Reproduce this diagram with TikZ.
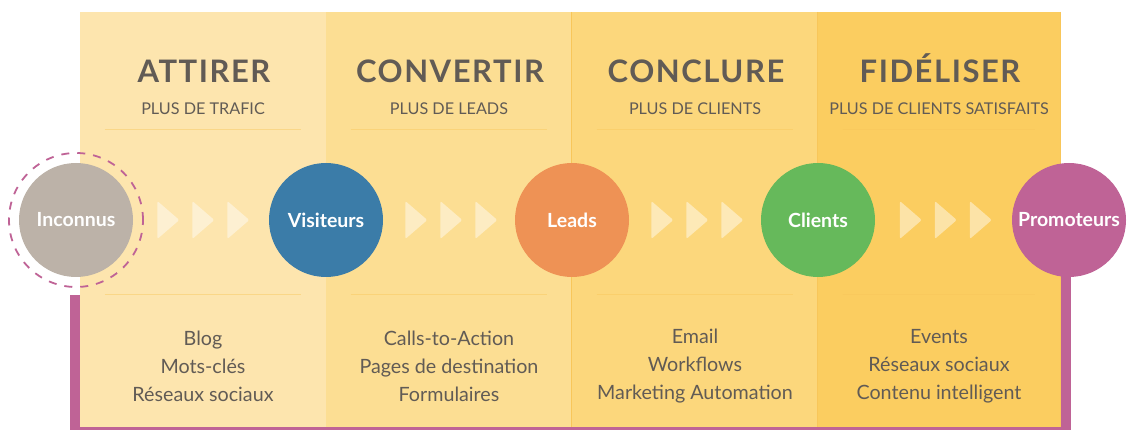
\documentclass[tikz,border=0pt]{standalone}
\usepackage{fontspec}
\setmainfont{Lato}
\newfontfamily\titrefont[LetterSpace=5]{Lato}
\usepackage{tikz}
\usetikzlibrary{shapes.geometric, positioning, calc}
\definecolor{texte}{HTML}{615B55}
\definecolor{colA}{HTML}{FDE5AE}
\definecolor{colB}{HTML}{FCDE93}
\definecolor{colC}{HTML}{FCD77C}
\definecolor{colD}{HTML}{FBCD60}
\definecolor{filet}{HTML}{F8C65A}
\definecolor{gris}{HTML}{BCB2A8}
\definecolor{bleu}{HTML}{3B7CA8}
\definecolor{orange}{HTML}{EE9255}
\definecolor{vert}{HTML}{66B95B}
\definecolor{violet}{HTML}{BF6396}
\tikzstyle{panneau} = [rectangle, minimum width=246pt, minimum height=415pt, inner sep=0pt, draw=none]
\tikzstyle{etape} = [circle, minimum size=114pt, inner sep=0pt, text=white, font=\fontsize{19.5}{21}\selectfont\bfseries]
\tikzstyle{titre} = [anchor=base, inner sep=0pt, text=texte, font=\titrefont\fontsize{31}{33}\selectfont\bfseries]
\tikzstyle{soustitre} = [anchor=base, inner sep=0pt, text=texte, font=\fontsize{16.2}{18}\selectfont]
\tikzstyle{outils} = [align=center, text=texte, font=\fontsize{19.7}{28}\selectfont]
\tikzstyle{chevron} = [isosceles triangle, isosceles triangle stretches, minimum width=38pt, minimum height=22pt, inner sep=0pt, rounded corners=2pt, fill=white, fill opacity=0.45]
\tikzstyle{trait} = [draw=filet, draw opacity=0.45, line width=0.8pt]
\tikzstyle{cadre} = [draw=violet, line width=10pt]

\begin{document}
\begin{tikzpicture}[x=1pt, y=-1pt, node distance=246pt]
    \useasboundingbox (0,0) rectangle (1127,430);

    % colonnes
    \node (attirer) [panneau, fill=colA] at (203,219.5) {};
    \node (convertir) [panneau, fill=colB] at (449,219.5) {};
    \node (conclure) [panneau, fill=colC] at (695,219.5) {};
    \node (fideliser) [panneau, fill=colD, minimum width=242pt] at (939,219.5) {};
    \draw [filet, line width=0.8pt] (conclure.north west) -- (conclure.south west);
    \draw [filet, line width=0.8pt] (fideliser.north west) -- (fideliser.south west);
    \draw [filet, line width=0.8pt] (fideliser.north east) -- (fideliser.south east);

    \foreach \c in {attirer, convertir, conclure, fideliser} {
        \draw [trait] ([xshift=25pt, yshift=-118pt]\c.north west) -- ([xshift=-25pt, yshift=-118pt]\c.north east);
        \draw [trait] ([xshift=25pt, yshift=-283pt]\c.north west) -- ([xshift=-25pt, yshift=-283pt]\c.north east);
    }

    % titres
    \node (tAttirer) [titre] at (204,83) {ATTIRER};
    \node (tConvertir) [titre] at (450,83) {CONVERTIR};
    \node (tConclure) [titre] at (696,83) {CONCLURE};
    \node (tFideliser) [titre] at (940,83) {FIDÉLISER};
    \node (sAttirer) [soustitre] at (203,115) {PLUS DE TRAFIC};
    \node (sConvertir) [soustitre] at (449,115) {PLUS DE LEADS};
    \node (sConclure) [soustitre] at (695,115) {PLUS DE CLIENTS};
    \node (sFideliser) [soustitre] at (939,115) {PLUS DE CLIENTS SATISFAITS};

    % cadre violet
    \draw [cadre] (75,295) -- (75,432) -- (1066,432) -- (1066,270);

    % etapes
    \node (inconnus) [etape, fill=gris] at (76,220) {Inconnus};
    \node (halo) [circle, minimum size=134pt, draw=violet, dashed, dash pattern=on 8pt off 8pt, line width=1.8pt] at (inconnus) {};
    \node (visiteurs) [etape, fill=bleu, right of=inconnus, xshift=4pt] {Visiteurs};
    \node (leads) [etape, fill=orange, right of=visiteurs] {Leads};
    \node (clients) [etape, fill=vert, right of=leads] {Clients};
    \node (promoteurs) [etape, fill=violet, right of=clients, xshift=5pt] {Promoteurs};

    \foreach \a/\b in {inconnus/visiteurs, visiteurs/leads, leads/clients, clients/promoteurs}
        \foreach \d in {-35,0,35}
            \node (ch-\a\d) [chevron] at ($(\a)!0.5!(\b)+(\d,0)$) {};

    % outils
    \node (oAttirer) [outils] at (203,366) {Blog\\Mots-clés\\Réseaux sociaux};
    \node (oConvertir) [outils] at (449,366) {Calls-to-Action\\Pages de destination\\Formulaires};
    \node (oConclure) [outils] at (695,366) {Email\\Workflows\\Marketing Automation};
    \node (oFideliser) [outils] at (939,366) {Events\\Réseaux sociaux\\Contenu intelligent};
\end{tikzpicture}
\end{document}
